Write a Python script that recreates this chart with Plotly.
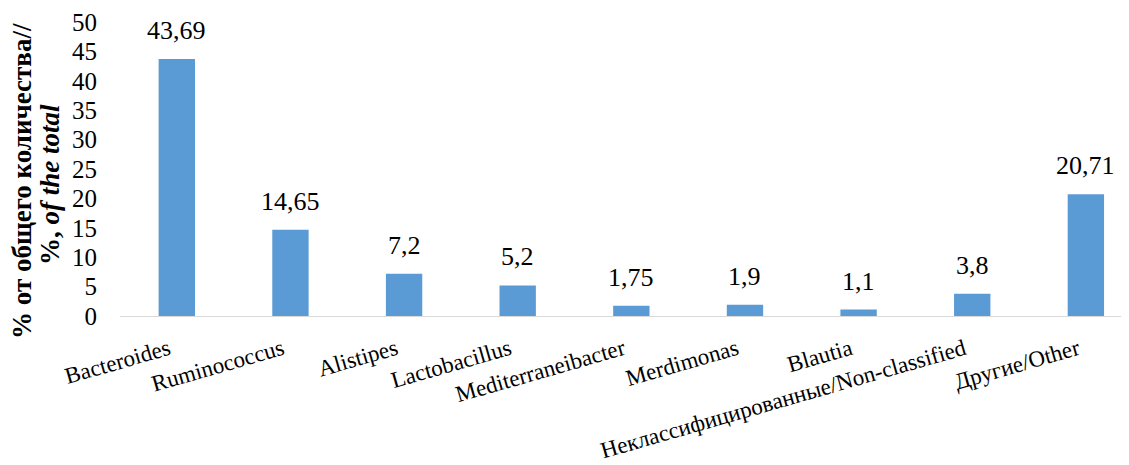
import plotly.graph_objects as go

categories = ["Bacteroides", "Ruminococcus", "Alistipes", "Lactobacillus",
              "Mediterraneibacter", "Merdimonas", "Blautia",
              "Неклассифицированные/Non-classified", "Другие/Other"]
values = [43.69, 14.65, 7.2, 5.2, 1.75, 1.9, 1.1, 3.8, 20.71]
value_labels = ["43,69", "14,65", "7,2", "5,2", "1,75", "1,9", "1,1", "3,8", "20,71"]
y_ticks = [0, 5, 10, 15, 20, 25, 30, 35, 40, 45, 50]
y_title_lines = ["<b>% от общего количества//</b>", "<b>%, <i>of the total</i></b>"]

font_family = "Liberation Serif"

fig = go.Figure(go.Bar(
    x=categories, y=values,
    marker=dict(color="#5B9BD5", line=dict(width=0)),
    width=0.32,
))

for cat, val, lab in zip(categories, values, value_labels):
    fig.add_annotation(x=cat, y=val, text=lab, showarrow=False,
                       xanchor="center", yanchor="bottom", yshift=12,
                       font=dict(family=font_family, size=26, color="black"))

# y-axis title, two lines placed to the left of the tick labels
for txt, xs, ys in zip(y_title_lines, [-98, -70], [-12, -16]):
    fig.add_annotation(x=0, y=0.5, xref="paper", yref="paper", text=txt,
                       textangle=-90, showarrow=False,
                       xanchor="center", yanchor="middle", xshift=xs, yshift=ys,
                       font=dict(family=font_family, size=27, color="black"))

fig.update_layout(
    width=1129, height=465,
    margin=dict(l=112, r=0, t=14, b=157),
    plot_bgcolor="white", paper_bgcolor="white",
    font=dict(family=font_family, color="black"),
    showlegend=False,
    xaxis=dict(
        range=[-0.5, 8.45],
        tickangle=-16,
        automargin=False,
        tickfont=dict(family=font_family, size=23, color="black"),
        ticklabelstandoff=10,
        ticklabelshift=-8,
        showline=True, linecolor="#d9d9d9", linewidth=1,
        ticks="", showgrid=False,
    ),
    yaxis=dict(
        range=[0, 50],
        tickvals=y_ticks,
        automargin=False,
        tickfont=dict(family=font_family, size=25, color="black"),
        showgrid=False, zeroline=False, showline=False, ticks="",
        ticklabelstandoff=22,
    ),
)

fig.write_html("out.html")
